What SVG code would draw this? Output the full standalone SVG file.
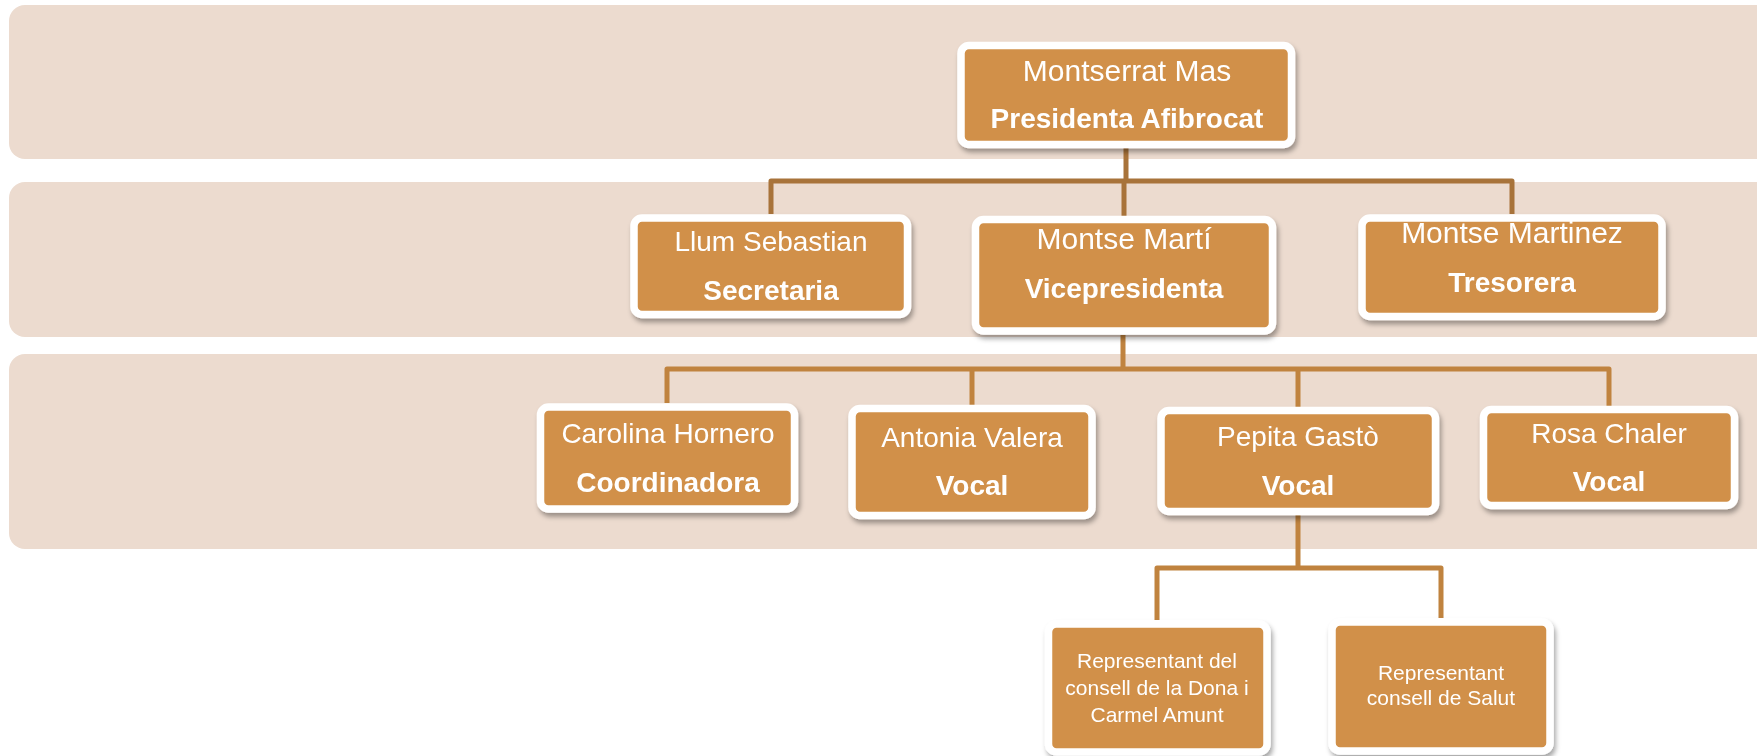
<svg xmlns="http://www.w3.org/2000/svg" width="1757" height="756" viewBox="0 0 1757 756">
<style>
.band{fill:#ECDBCF}
.box{fill:#D19049;stroke:#FFFFFF;stroke-width:7.5}
.t{font-family:"Liberation Sans",Arial,sans-serif;fill:#FFFFFF;text-anchor:middle;font-size:28px}
.b{font-weight:bold}
.big{font-size:30px}
.sm{font-size:21px}
.c1{fill:none;stroke:#A8733A;stroke-width:5;stroke-linejoin:round}
.c2{fill:none;stroke:#C0833F;stroke-width:5;stroke-linejoin:round}
</style>
<defs>
<filter id="sh" x="-10%" y="-10%" width="125%" height="135%">
<feDropShadow dx="2" dy="4" stdDeviation="2.5" flood-color="#000000" flood-opacity="0.35"/>
</filter>
</defs>
<rect width="1757" height="756" fill="#FFFFFF"/>
<g id="bands">
<rect class="band" x="9" y="5" width="1770" height="154" rx="16"/>
<rect class="band" x="9" y="182" width="1770" height="155" rx="16"/>
<rect class="band" x="9" y="354" width="1770" height="195" rx="16"/>
</g>
<g id="connectors">
<path class="c1" d="M1126,148 V181 M771,214 V181 H1512 V214 M1124,181 V216"/>
<path class="c2" d="M1123,335 V369 M667,403 V369 H1609 V406 M972,369 V405 M1298,369 V407"/>
<path class="c2" d="M1298,515 V568 M1157,620 V568 H1441 V618"/>
</g>
<g id="n-presidenta" filter="url(#sh)">
<rect class="box" x="961" y="45.5" width="330.5" height="99" rx="8"/>
<text class="t big" x="1127" y="81">Montserrat Mas</text>
<text class="t b" x="1127" y="128">Presidenta Afibrocat</text>
</g>
<g id="n-secretaria" filter="url(#sh)">
<rect class="box" x="634" y="218" width="273.5" height="96.5" rx="8"/>
<text class="t" x="771" y="251">Llum Sebastian</text>
<text class="t b" x="771" y="300">Secretaria</text>
</g>
<g id="n-vicepresidenta" filter="url(#sh)">
<rect class="box" x="975.5" y="219.5" width="297" height="111.5" rx="8"/>
<text class="t big" x="1124" y="249">Montse Martí</text>
<text class="t b" x="1124" y="298">Vicepresidenta</text>
</g>
<g id="n-tresorera" filter="url(#sh)">
<rect class="box" x="1362" y="218" width="300" height="98.5" rx="8"/>
<text class="t big" x="1512" y="243">Montse Martinez</text>
<text class="t b" x="1512" y="292">Tresorera</text>
</g>
<g id="n-coordinadora" filter="url(#sh)">
<rect class="box" x="540.5" y="407" width="254" height="102" rx="8"/>
<text class="t" x="668" y="443">Carolina Hornero</text>
<text class="t b" x="668" y="492">Coordinadora</text>
</g>
<g id="n-antonia" filter="url(#sh)">
<rect class="box" x="852" y="408.5" width="240" height="107" rx="8"/>
<text class="t" x="972" y="447">Antonia Valera</text>
<text class="t b" x="972" y="495">Vocal</text>
</g>
<g id="n-pepita" filter="url(#sh)">
<rect class="box" x="1161" y="410.5" width="274.5" height="101" rx="8"/>
<text class="t" x="1298" y="446">Pepita Gastò</text>
<text class="t b" x="1298" y="495">Vocal</text>
</g>
<g id="n-rosa" filter="url(#sh)">
<rect class="box" x="1483.5" y="409.5" width="251" height="96" rx="8"/>
<text class="t" x="1609" y="443">Rosa Chaler</text>
<text class="t b" x="1609" y="491">Vocal</text>
</g>
<g id="n-dona" filter="url(#sh)">
<rect class="box" x="1048.5" y="624" width="218.5" height="128" rx="8"/>
<text class="t sm" x="1157" y="668">Representant del</text>
<text class="t sm" x="1157" y="695">consell de la Dona i</text>
<text class="t sm" x="1157" y="722">Carmel Amunt</text>
</g>
<g id="n-salut" filter="url(#sh)">
<rect class="box" x="1332" y="622" width="218" height="129" rx="8"/>
<text class="t sm" x="1441" y="680">Representant</text>
<text class="t sm" x="1441" y="705">consell de Salut</text>
</g>
</svg>
